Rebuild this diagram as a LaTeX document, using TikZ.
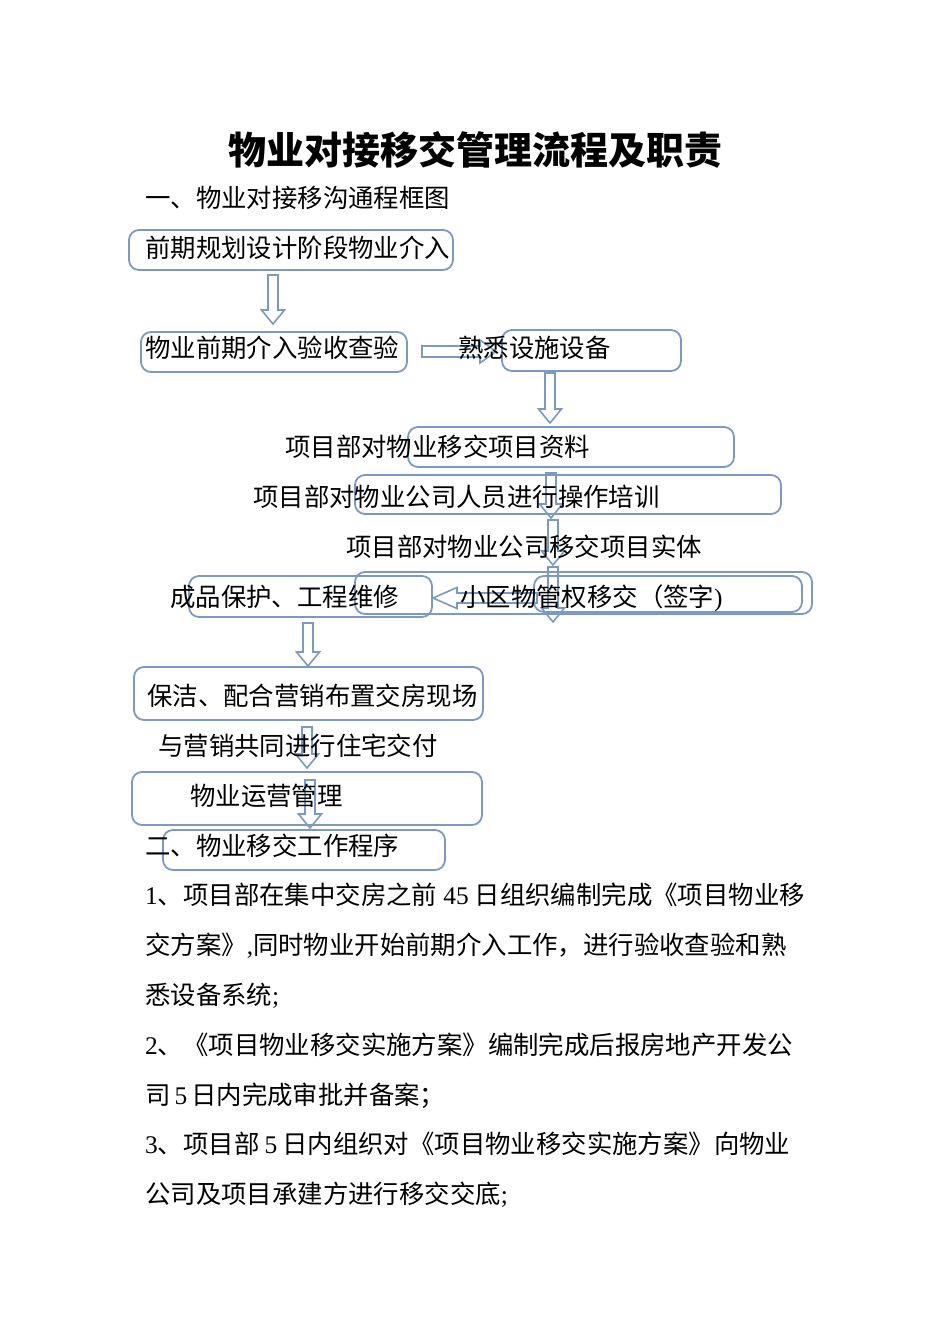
\documentclass[tikz,border=0pt]{standalone}
\usepackage{fontspec}
\setmainfont{Liberation Serif}
\newfontfamily\cjk{Noto Sans CJK SC}
\newcommand\latn[1]{{\rmfamily #1}}
\definecolor{boxblue}{RGB}{122,154,197}
\tikzset{
  boxline/.style={draw=boxblue, line width=1.8pt, rounded corners=10pt},
  blk/.style={draw=boxblue, line width=1.6pt, line join=miter},
  txt/.style={inner sep=0pt, anchor=base west, font=\cjk\fontsize{25.4}{30}\selectfont, text=black},
  ttl/.style={inner sep=0pt, anchor=base, font=\cjk\bfseries\fontsize{38}{44}\selectfont, text=black}
}
% down block arrow: x, ytop, ytip
\newcommand\blkdown[3]{\draw[blk] (#1-5,#2) -- (#1+5,#2) -- (#1+5,#3-14) -- (#1+11.5,#3-14) -- (#1,#3) -- (#1-11.5,#3-14) -- (#1-5,#3-14) -- cycle;}
% right block arrow: y, xtail, xtip
\newcommand\blkright[3]{\draw[blk] (#2,#1-5.5) -- (#3-16,#1-5.5) -- (#3-16,#1-11.5) -- (#3,#1) -- (#3-16,#1+11.5) -- (#3-16,#1+5.5) -- (#2,#1+5.5) -- cycle;}
% left block arrow: y, xtail, xtip
\newcommand\blkleft[3]{\draw[blk] (#2,#1-5) -- (#3+24,#1-5) -- (#3+24,#1-10.5) -- (#3,#1) -- (#3+24,#1+10.5) -- (#3+24,#1+5) -- (#2,#1+5) -- cycle;}
\begin{document}
\begin{tikzpicture}[x=1pt,y=-1pt]
\useasboundingbox[fill=white] (0,0) rectangle (950,1344);

% boxes
\draw[boxline] (129,230) rectangle (453,270);
\draw[boxline] (141,332) rectangle (407,372);
\draw[boxline] (502,330) rectangle (681,371);
\draw[boxline] (408,427) rectangle (734,467);
\draw[boxline] (355,475) rectangle (781,514);
\draw[boxline] (189,576) rectangle (432,617);
\draw[boxline] (355,572) rectangle (812,614);
\draw[boxline] (534,576) rectangle (802,612);
\draw[boxline] (134,667) rectangle (483,720);
\draw[boxline] (132,772) rectangle (482,825);
\draw[boxline] (163,830) rectangle (445,870);

% block arrows
\blkdown{273}{275}{324}
\blkright{351.5}{422}{496}
\blkdown{550}{373}{423}
\blkdown{551}{473}{518}
\blkdown{553}{520}{565}
\blkdown{553}{567}{622}
\blkleft{598}{537}{433}
\blkdown{308}{623}{666}
\blkdown{307}{727}{768}
\blkdown{310}{780}{828}

% texts
\node[ttl] (title) at (475,164.4) {物业对接移交管理流程及职责};
\node[txt] (h1) at (145,207.7) {一、物业对接移沟通程框图};
\node[txt] (n1) at (145,257.5) {前期规划设计阶段物业介入};
\node[txt] (n2) at (145,357.1) {物业前期介入验收查验};
\node[txt] (n3) at (458,357.1) {熟悉设施设备};
\node[txt] (n4) at (285,456.7) {项目部对物业移交项目资料};
\node[txt] (n5) at (253,506.5) {项目部对物业公司人员进行操作培训};
\node[txt] (n6) at (346,556.3) {项目部对物业公司移交项目实体};
\node[txt] (n7) at (170,606.1) {成品保护、工程维修};
\node[txt] (n8) at (460,606.1) {小区物管权移交（签字\latn{)}};
\node[txt] (n9) at (147,705.7) {保洁、配合营销布置交房现场};
\node[txt] (n10) at (158,755.5) {与营销共同进行住宅交付};
\node[txt] (n11) at (190,805.3) {物业运营管理};
\node[txt] (h2) at (145,855.1) {二、物业移交工作程序};
\node[txt] (p1) at (145,904.9) {\latn{1}、项目部在集中交房之前\hspace{6pt}\latn{45}\hspace{6pt}日组织编制完成《项目物业移};
\node[txt] (p2) at (145,954.7) {交方案》\latn{,}同时物业开始前期介入工作，进行验收查验和熟};
\node[txt] (p3) at (145,1004.5) {悉设备系统\latn{;}};
\node[txt] (p4) at (145,1054.3) {\latn{2}、《项目物业移交实施方案》编制完成后报房地产开发公};
\node[txt] (p5) at (145,1104.1) {司\hspace{4pt}\latn{5}\hspace{4pt}日内完成审批并备案；};
\node[txt] (p6) at (145,1153.9) {\latn{3}、项目部\hspace{5pt}\latn{5}\hspace{5pt}日内组织对《项目物业移交实施方案》向物业};
\node[txt] (p7) at (145,1203.7) {公司及项目承建方进行移交交底\latn{;}};
\end{tikzpicture}
\end{document}
